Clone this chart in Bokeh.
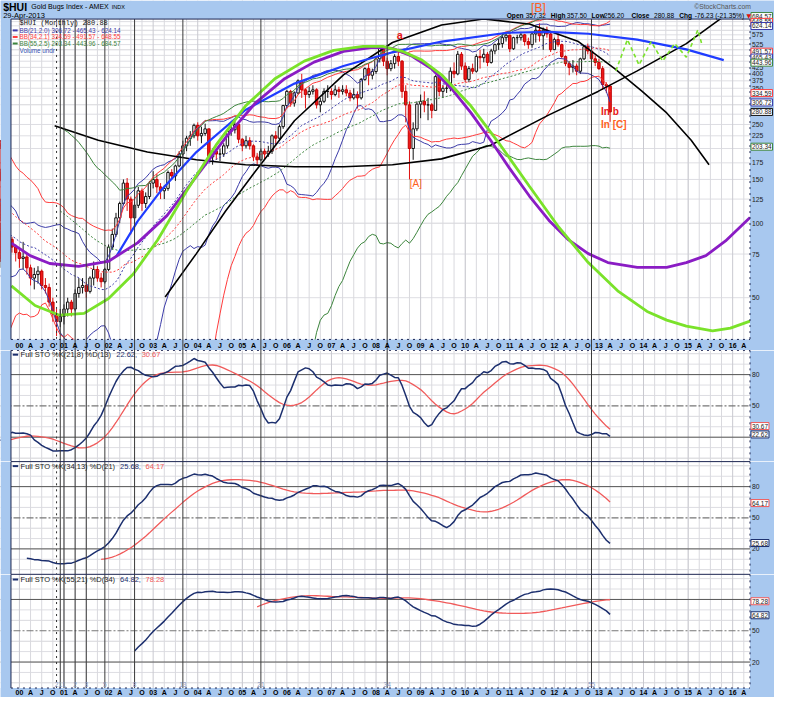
import math
import numpy as np
import pandas as pd
from bokeh.plotting import figure
from bokeh.layouts import column
from bokeh.models import Range1d, BoxAnnotation, Span, Label
from bokeh.embed import file_html
from bokeh.resources import INLINE

# ---------------- monthly $HUI data, Jun-1996 .. Apr-2013 ----------------
FIRST = 1996 + 5 / 12
close = [
    215, 200, 215, 205, 210, 215, 205,                      # 1996 Jun-Dec
    205, 200, 175, 150, 160, 148, 152, 150, 165, 140, 108, 102,  # 1997
    108, 112, 118, 125, 105, 92, 88, 70, 100, 95, 90, 84,   # 1998
    82, 80, 76, 92, 78, 80, 72, 74, 96, 86, 80, 76,         # 1999
    72, 73, 66, 60, 62, 64, 56, 55, 48, 43, 40, 42,         # 2000
    45, 48, 45, 52, 55, 56, 53, 60, 65, 60, 58, 65,         # 2001
    80, 90, 105, 120, 145, 125, 105, 118, 135, 120, 128, 145,  # 2002
    150, 140, 135, 138, 160, 155, 170, 190, 205, 220, 225, 248,  # 2003
    225, 230, 240, 185, 195, 190, 190, 205, 235, 238, 250, 218,  # 2004
    205, 215, 205, 185, 180, 195, 190, 195, 225, 220, 245, 298,  # 2005
    340, 305, 335, 375, 345, 330, 340, 345, 300, 310, 340, 340,  # 2006
    330, 345, 340, 345, 335, 320, 330, 320, 380, 420, 395, 409,  # 2007
    460, 510, 450, 420, 440, 470, 450, 340, 300, 200, 240, 302,  # 2008
    310, 300, 300, 285, 390, 340, 350, 350, 410, 400, 480, 430,  # 2009
    380, 420, 410, 470, 465, 480, 445, 495, 525, 530, 560, 573,  # 2010
    505, 560, 560, 575, 540, 525, 580, 600, 570, 600, 580, 501,  # 2011
    550, 525, 470, 440, 425, 430, 410, 460, 515, 495, 460, 445,  # 2012
    420, 362, 357.32, 280.88,                                   # 2013 Jan-Apr
]
high = [
    230, 218, 222, 220, 222, 225, 222,
    215, 212, 205, 178, 165, 162, 158, 158, 172, 168, 142, 115,
    115, 118, 122, 132, 128, 108, 96, 90, 108, 104, 100, 95,
    90, 86, 84, 96, 94, 84, 82, 78, 120, 108, 88, 82,
    80, 84, 75, 68, 66, 67, 65, 60, 57, 50, 45, 45,
    47, 50, 49, 54, 60, 60, 58, 61, 70, 67, 63, 66,
    82, 95, 110, 122, 150, 152, 128, 122, 140, 138, 133, 148,
    162, 158, 145, 142, 163, 165, 172, 195, 215, 225, 235, 252,
    255, 245, 252, 240, 200, 200, 200, 210, 238, 248, 262, 252,
    220, 225, 222, 208, 192, 200, 200, 205, 228, 235, 250, 300,
    345, 345, 340, 380, 400, 350, 355, 360, 350, 320, 350, 360,
    350, 360, 355, 360, 360, 345, 350, 340, 385, 425, 440, 420,
    470, 520, 520, 465, 455, 480, 500, 455, 360, 310, 255, 310,
    330, 340, 320, 305, 395, 395, 360, 365, 425, 445, 495, 490,
    445, 430, 440, 480, 500, 505, 490, 505, 530, 555, 580, 585,
    575, 565, 575, 590, 580, 560, 590, 625, 640, 615, 620, 590,
    560, 585, 530, 475, 450, 455, 440, 465, 520, 530, 500, 475,
    460, 430, 370, 357.5,
]
low = [
    195, 185, 195, 195, 200, 200, 195,
    190, 188, 170, 140, 145, 140, 140, 142, 148, 135, 100, 95,
    95, 100, 106, 115, 100, 88, 82, 62, 68, 88, 84, 80,
    76, 74, 70, 74, 74, 70, 66, 66, 72, 82, 76, 70,
    66, 65, 62, 56, 54, 57, 54, 52, 46, 40, 35, 38,
    39, 42, 42, 44, 50, 52, 50, 52, 56, 58, 55, 57,
    64, 78, 88, 100, 118, 112, 90, 100, 115, 112, 115, 125,
    138, 132, 125, 125, 135, 150, 148, 168, 185, 195, 205, 220,
    215, 210, 225, 180, 172, 180, 178, 185, 200, 225, 230, 210,
    195, 200, 198, 178, 170, 178, 180, 185, 190, 205, 215, 240,
    290, 295, 295, 330, 320, 290, 320, 330, 290, 280, 305, 320,
    315, 325, 320, 330, 325, 310, 315, 290, 315, 375, 360, 380,
    400, 445, 430, 395, 410, 420, 430, 320, 255, 150, 180, 235,
    265, 280, 260, 265, 285, 325, 320, 335, 340, 385, 395, 415,
    370, 370, 400, 405, 420, 445, 430, 440, 480, 500, 510, 540,
    490, 500, 530, 545, 520, 505, 510, 535, 540, 500, 560, 490,
    500, 515, 460, 430, 395, 405, 395, 400, 455, 480, 445, 430,
    415, 345, 335, 256.2,
]

# last values shown in the reference legend / right axis
bb21_last = [306.72, 465.43, 624.14]
bb34_last = [334.59, 491.57, 648.55]
bb55_last = [203.34, 443.96, 684.57]
last_close = 280.88
quote = dict(Open="357.32", High="357.50", Low="256.20", Close="280.88", Chg="-76.23 (-21.35%)")
sto_specs = [(21, 8, 13, 22.62, 30.67), (34, 13, 21, 25.68, 64.17), (55, 21, 34, 64.82, 78.28)]

# hand-drawn cycle curves (year, index value)
purple_t = [1999.82, 2000.24, 2000.68, 2001.33, 2001.99, 2002.65, 2003.31, 2003.97, 2004.63, 2005.29,
            2005.95, 2006.61, 2007.27, 2007.93, 2008.37, 2008.81, 2009.25, 2009.69, 2010.13, 2010.57,
            2011.00, 2011.44, 2011.88, 2012.32, 2012.76, 2013.20, 2013.86, 2014.52, 2014.96, 2015.40,
            2015.84, 2016.39]
purple_v = [83.0, 73.9, 68.7, 66.9, 70.0, 83.2, 107.2, 154.2, 221.8, 304.8,
            382.5, 446.3, 493.2, 511.6, 506.9, 471.4, 418.9, 349.3, 278.3, 215.8,
            165.9, 128.6, 102.5, 85.5, 75.3, 69.3, 66.3, 66.3, 69.3, 73.9,
            84.7, 105.3]
green_t = [1999.82, 2000.35, 2000.90, 2001.45, 2002.00, 2002.55, 2003.10, 2003.75, 2004.41, 2005.07,
           2005.73, 2006.39, 2007.05, 2007.71, 2008.15, 2008.59, 2009.03, 2009.47, 2010.13, 2010.79,
           2011.44, 2012.10, 2012.76, 2013.42, 2014.08, 2014.52, 2014.96, 2015.55, 2015.95, 2016.39]
green_v = [55.8, 46.5, 42.5, 43.2, 49.6, 62.2, 85.5, 134.6, 206.2, 296.6,
           382.5, 450.4, 497.7, 516.2, 516.2, 493.2, 454.5, 396.6, 296.6, 206.2,
           140.8, 96.2, 69.3, 53.3, 44.0, 40.6, 38.4, 36.7, 37.7, 40.2]
blue_t = [2002.17, 2002.65, 2003.20, 2003.97, 2005.07, 2006.17, 2007.27, 2008.37, 2009.47, 2010.94,
          2011.88, 2012.76, 2013.86, 2014.96, 2015.80]
blue_v = [73.2, 101.6, 137.0, 193.5, 286.0, 365.5, 430.4, 488.8, 540.2, 586.2,
          591.5, 580.8, 550.1, 502.3, 454.5]
dome_t = [2003.27, 2003.97, 2004.63, 2005.29, 2006.17, 2007.27, 2008.37, 2009.47, 2010.41, 2011.44,
          2012.54, 2013.36, 2013.97, 2014.52, 2015.07, 2015.47]
dome_v = [50.3, 75.3, 112.2, 161.4, 258.8, 396.6, 535.3, 630.3, 665.6, 636.0,
          540.2, 418.9, 339.9, 278.3, 215.8, 172.0]
bowl_t = [2000.79, 2001.77, 2002.87, 2003.97, 2005.07, 2006.17, 2007.27, 2008.37, 2009.47, 2010.57,
          2011.88, 2012.98, 2013.86, 2014.96, 2015.84]
bowl_v = [247.3, 215.8, 193.5, 180.0, 172.0, 168.9, 168.9, 172.0, 181.6, 206.2,
          273.3, 339.9, 411.3, 530.0, 690.0]
zig_t = [2013.38, 2013.64, 2013.90, 2014.17, 2014.43, 2014.70, 2014.96, 2015.22, 2015.31]
zig_v = [411.3, 550.1, 434.4, 540.2, 450.4, 530.4, 467.1, 602.3, 525.7]

# Fibonacci time lines counted in months from the Nov-2000 low
fib_base = 2000 + 10 / 12
fib_months = [1, 2, 5, 8, 13, 21, 34, 55, 89, 144]
fib_labels = ["1", "1", "2", "3", "5", "8", "13", "21", "34", "55"]

# ---------------- layout helpers (reference-pixel geometry) ----------------
W = 774
SX = W / 790
SY = 697 / 713
EDGES = [0, 350, 461, 574, 697]
BG = "#a8c8ef"
FONT = "Liberation Sans"
BORDER = "#1c2450"


def tx(xr):
    return 2000 + (xr - 19.3) / 45.5


def mv(yr):
    return 100 * math.exp((227.7 - yr) / 110.1)


def make_pv(y80, y20):
    k = 60.0 / (y20 - y80)
    return lambda yr: 80 - (yr - y80) * k


XR = Range1d(tx(0), tx(790))
PL, PR = tx(10.7), tx(765)


def make_fig(i, yrange, log=False):
    p = figure(width=W, height=EDGES[i + 1] - EDGES[i], x_range=XR, y_range=yrange,
               y_axis_type="log" if log else "linear",
               x_axis_location=None, y_axis_location=None, toolbar_location=None,
               min_border=0, output_backend="svg", background_fill_color="white",
               border_fill_color=BG, outline_line_color=None)
    return p


def lab(p, x, y, text, size=7, color="#000000", bold=False, align="left", baseline="middle",
        font=FONT, box=None):
    kw = {}
    if box:
        kw = dict(background_fill_color="white", border_line_color=box, border_line_width=1,
                  padding=1)
    p.add_layout(Label(x=x, y=y, text=text, text_font=font, text_font_size=f"{size}px",
                       text_color=color, text_font_style="bold" if bold else "normal",
                       text_align=align, text_baseline=baseline, level="overlay", **kw))


def seg(p, x0, y0, x1, y1, color=BORDER, width=1, dash="solid"):
    r = p.segment(x0=[x0], y0=[y0], x1=[x1], y1=[y1], line_color=color, line_width=width,
                  line_dash=dash)
    r.level = "overlay"


def vgrid(p):
    for yr in range(2000, 2017):
        for q in range(4):
            tq = yr + q / 4
            if tq <= PR:
                p.add_layout(Span(location=tq, dimension="height", line_color="#d9d9de" if q else "#c9c9d0",
                                  line_width=1, level="underlay"))


def margins(p, top=None, bottom=None):
    p.add_layout(BoxAnnotation(right=PL, fill_color=BG, fill_alpha=1, line_color=None))
    p.add_layout(BoxAnnotation(left=PR, fill_color=BG, fill_alpha=1, line_color=None))
    if top is not None:
        p.add_layout(BoxAnnotation(bottom=top, fill_color=BG, fill_alpha=1, line_color=None))
    if bottom is not None:
        p.add_layout(BoxAnnotation(top=bottom, fill_color=BG, fill_alpha=1, line_color=None))


def fib_lines(p, ybot, ytop):
    seg(p, fib_base, ybot, fib_base, ytop, color="#333333", dash="dotted")
    for m in fib_months:
        tt = fib_base + m / 12
        seg(p, tt, ybot, tt, ytop, color="#3a3a3a")


def date_labels(p, yv):
    for yr in range(2000, 2017):
        for q, s in enumerate([f"{yr % 100:02d}", "A", "J", "O"]):
            tq = yr + q / 4
            if tq <= PR:
                lab(p, tq, yv, s, size=7, bold=True, align="center")


# ---------------- indicators ----------------
n = len(close)
t = np.array([FIRST + i / 12 for i in range(n)])
c = pd.Series(close, dtype=float)
h = pd.Series(high, dtype=float)
l = pd.Series(low, dtype=float)
o = c.shift(1).fillna(c.iloc[0])


def bb(nn, k):
    m = c.rolling(nn).mean()
    s = c.rolling(nn).std(ddof=0)
    return (m - k * s).values, m.values, (m + k * s).values


def full_sto(k, s, d):
    ll = l.rolling(k).min()
    hh = h.rolling(k).max()
    fk = 100 * (c - ll) / (hh - ll)
    K = fk.rolling(s).mean()
    return K.values, K.rolling(d).mean().values


# ---------------- main price panel ----------------
p0 = make_fig(0, Range1d(mv(EDGES[1] / SY), mv(0)), log=True)
for v in range(50, 651, 25):
    p0.add_layout(Span(location=v, dimension="width", line_color="#dedee3", line_width=1, level="underlay"))
vgrid(p0)

up = (c >= o).values
dn = ~up
body_top = np.maximum(o.values, c.values)
body_bot = np.minimum(o.values, c.values)
p0.segment(t[up], h.values[up], t[up], l.values[up], line_color="#111111", line_width=1)
p0.segment(t[dn], h.values[dn], t[dn], l.values[dn], line_color="#e01010", line_width=1)
p0.vbar(x=t[up], width=0.055, top=body_top[up], bottom=body_bot[up], fill_color="white",
        line_color="#111111", line_width=1)
p0.vbar(x=t[dn], width=0.055, top=body_top[dn], bottom=body_bot[dn], fill_color="#f01818",
        line_color="#c00000", line_width=1)

for (nn, k, col) in [(21, 2.0, "#3b3ba8"), (34, 2.1, "#ff3b3b"), (55, 2.5, "#3d853d")]:
    lo, mid, hi = bb(nn, k)
    p0.line(t, lo, line_color=col, line_width=1)
    p0.line(t, hi, line_color=col, line_width=1)
    p0.line(t, mid, line_color=col, line_width=1, line_dash="2 2")

p0.line(bowl_t, bowl_v, line_color="black", line_width=1.6)
p0.line(dome_t, dome_v, line_color="black", line_width=1.6)
p0.line(blue_t, blue_v, line_color="#1f3cff", line_width=2.2)
p0.line(purple_t, purple_v, line_color="#8a1cc4", line_width=2.8)
p0.line(green_t, green_v, line_color="#7ae22a", line_width=2.8)
p0.line(zig_t, zig_v, line_color="#7ae22a", line_width=1.6, line_dash="4 3")

margins(p0, top=mv(19), bottom=mv(346.7))
fib_lines(p0, mv(358.5), mv(19))
seg(p0, PL, mv(19), PR, mv(19))
seg(p0, PL, mv(19), PL, mv(346.7))
seg(p0, PR, mv(19), PR, mv(346.7), dash="dotted")
seg(p0, PL, mv(346.7), PR, mv(346.7), dash="dotted")
date_labels(p0, mv(352.6))

# right axis
for v in [575, 525, 425, 400, 375, 350, 250, 225, 175, 150, 125, 100, 75, 50]:
    lab(p0, tx(767), v, str(v), size=6.8, color="#222222")
for v, col in [(bb55_last[2], "#3d853d"), (bb34_last[2], "#ff3b3b"), (bb21_last[2], "#3b3ba8"),
               (bb34_last[1], "#ff3b3b"), (bb21_last[1], "#3b3ba8"), (bb55_last[1], "#3d853d"),
               (bb34_last[0], "#ff3b3b"), (bb21_last[0], "#3b3ba8"), (last_close, "#111111"),
               (bb55_last[0], "#3d853d")]:
    lab(p0, tx(766), v, f"{v:.2f}", size=6.4, color="#222222", box=col)

# header
lab(p0, tx(2.7), mv(6.5), "$HUI", size=10.5, bold=True)
lab(p0, tx(31.5), mv(6.5), "Gold Bugs Index - AMEX", size=7)
lab(p0, tx(113.5), mv(6.8), "INDX", size=5.5)
lab(p0, tx(2.7), mv(15), "29-Apr-2013", size=7.5)
lab(p0, tx(708), mv(6.5), "\u00a9StockCharts.com", size=6.8, color="#555555")
qx = {"Open": (516.7, 536), "High": (561.7, 578), "Low": (603.3, 616), "Close": (644, 667),
      "Chg": (692.7, 708.5)}
for key, (xa, xb) in qx.items():
    lab(p0, tx(xa), mv(15.2), key, size=6.6, bold=True)
    lab(p0, tx(xb), mv(15.2), quote[key], size=6.6)
lab(p0, tx(761.5), mv(15.2), "\u25bc", size=6, color="#e01010", font="DejaVu Sans")

# legend
rows = [(23.3, "#111111", f"$HUI (Monthly) {last_close}"),
        (30.6, "#3b3ba8", "BB(21,2.0) " + " - ".join(f"{v:.2f}" for v in bb21_last)),
        (37.3, "#ff3b3b", "BB(34,2.1) " + " - ".join(f"{v:.2f}" for v in bb34_last)),
        (44.0, "#3d853d", "BB(55,2.5) " + " - ".join(f"{v:.2f}" for v in bb55_last)),
        (51.0, "#3050b0", "Volume undr")]
for i, (yy, col, txt) in enumerate(rows):
    if i in (1, 2, 3):
        seg(p0, tx(12.5), mv(yy), tx(17.5), mv(yy), color=col, width=2)
        lab(p0, tx(19.5), mv(yy), txt, size=6.3, color=col)
    elif i == 0:
        lab(p0, tx(19.5), mv(yy), txt, size=7, color=col, font="Liberation Mono")
    else:
        lab(p0, tx(19.5), mv(yy), txt, size=6.3, color=col)

# wave labels
lab(p0, tx(407.5), mv(35.5), "a", size=11, color="#e81818", bold=True, align="center")
lab(p0, tx(549), mv(8), "[B]", size=12, color="#ff6020", align="center")
lab(p0, tx(424), mv(187), "[A]", size=10, color="#ff6020", align="center")
lab(p0, tx(613), mv(113.5), "In b", size=10, color="#e81818", bold=True)
lab(p0, tx(613), mv(126.5), "In [C]", size=10, color="#ff6020", bold=True)

# ---------------- stochastic panels ----------------
panel_geo = [(382.7, 446.7, 357.9, 471.7, 362.3), (497.3, 561.0, 471.7, 587.0, 476.3),
             (612.7, 676.7, 587.0, 703.3, 592.3)]
figs = [p0]
for i, ((k, s, d, kl, dl), (y80, y20, ytop, ybot, ytitle)) in enumerate(zip(sto_specs, panel_geo)):
    pv = make_pv(y80, y20)
    p = make_fig(i + 1, Range1d(pv(EDGES[i + 2] / SY), pv(EDGES[i + 1] / SY)))
    for g in range(0, 101, 10):
        if g not in (20, 50, 80):
            p.add_layout(Span(location=g, dimension="width", line_color="#dedee3", line_width=1,
                              level="underlay"))
    vgrid(p)
    for g in (20, 80):
        p.add_layout(Span(location=g, dimension="width", line_color="#555555", line_width=1,
                          level="underlay"))
    p.add_layout(Span(location=50, dimension="width", line_color="#777777", line_width=1.2,
                      line_dash="7 2 2 2", level="underlay"))
    K, D = full_sto(k, s, d)
    p.line(t, D, line_color="#f05a5a", line_width=1.3)
    p.line(t, K, line_color="#1c2f6e", line_width=1.5)
    if i == 2:
        margins(p, bottom=pv(ybot))
        date_labels(p, pv(708.2))
        fib_lines(p, pv(ybot), pv(ytop))
        lab(p, fib_base, pv(699.3), "2", size=6.5, color="#8898c0", align="center")
        for m, s_ in zip(fib_months, fib_labels):
            lab(p, fib_base + m / 12, pv(699.3), s_, size=6.5, color="#8898c0", align="center")
    else:
        margins(p)
        fib_lines(p, pv(ybot + 1), pv(ytop - 1))
    seg(p, PL, pv(ytop), PR, pv(ytop), dash="dotted" if i == 0 else "solid")
    seg(p, PL, pv(ybot), PR, pv(ybot), dash="dotted" if i == 2 else "solid")
    seg(p, PL, pv(ytop), PL, pv(ybot))
    seg(p, PR, pv(ytop), PR, pv(ybot), dash="dotted")
    # title
    seg(p, tx(12.5), pv(ytitle), tx(18), pv(ytitle), color="#1c2f6e", width=2)
    title = f"Full STO %K({k},{s}) %D({d})"
    lab(p, tx(20.5), pv(ytitle), title, size=7.5, color="#222222")
    x1 = 20.5 + len(title) * 3.9 + 4
    lab(p, tx(x1), pv(ytitle), f"{kl:.2f},", size=7.5, color="#1c2f6e")
    lab(p, tx(x1 + 26), pv(ytitle), f"{dl:.2f}", size=7.5, color="#f05a5a")
    # right axis
    plain = {0: [80, 50], 1: [80, 50, 20], 2: [50, 20]}[i]
    for v in plain:
        lab(p, tx(767), v, str(v), size=6.8, color="#222222")
    lab(p, tx(766), dl, f"{dl:.2f}", size=6.4, color="#222222", box="#f05a5a")
    lab(p, tx(766), kl, f"{kl:.2f}", size=6.4, color="#222222", box="#1c2f6e")
    figs.append(p)

layout = column(*figs, spacing=0)
open("out.html", "w").write(file_html(layout, INLINE))
